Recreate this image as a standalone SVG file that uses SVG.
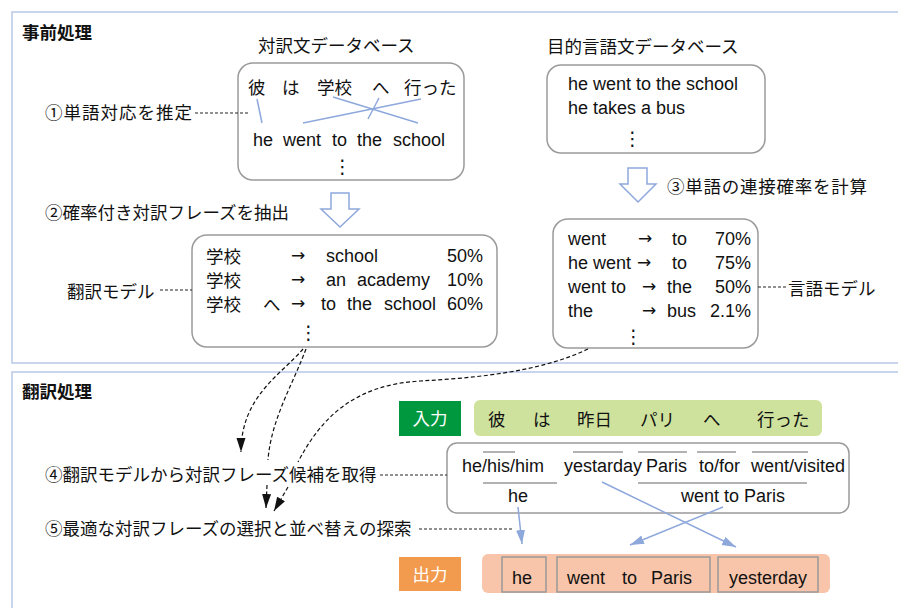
<svg xmlns="http://www.w3.org/2000/svg" width="898" height="608" viewBox="0 0 898 608">
<defs>
<style>
.panel{fill:none;stroke:#b8c6e8;stroke-width:1.5}
.box{fill:#fff;stroke:#9a9a9a;stroke-width:1.5}
.jp{font-family:"Noto Sans CJK JP","Liberation Sans",sans-serif;font-size:17.5px;fill:#111}
.ttl{font-family:"Noto Sans CJK JP","Liberation Sans",sans-serif;font-size:17.5px;font-weight:bold;fill:#111}
.en{font-family:"Liberation Sans","Noto Sans CJK JP",sans-serif;font-size:18px;fill:#111}
.ar{font-family:"DejaVu Sans",sans-serif;font-size:17px;fill:#111}
.dots{font-family:"DejaVu Sans",sans-serif;font-size:19px;fill:#111}
.wh{font-family:"Noto Sans CJK JP",sans-serif;font-size:17.5px;fill:#fff}
.hollow{fill:#fff;stroke:#8ea8dc;stroke-width:1.5;stroke-linejoin:miter}
.align{stroke:#8ea8dc;stroke-width:1.5;fill:none}
.lead{stroke:#222;stroke-width:1;stroke-dasharray:3 2;fill:none}
.curve{stroke:#111;stroke-width:1.2;stroke-dasharray:4 2.5;fill:none}
.bar{stroke:#999;stroke-width:1.5}
.blue{stroke:#8ea8dc;stroke-width:1.5;fill:none}
</style>
<marker id="ah" markerUnits="userSpaceOnUse" markerWidth="16" markerHeight="10" refX="14" refY="4.5" orient="auto">
<path d="M0,0 L14,4.5 L0,9 Z" fill="#111"/>
</marker>
<marker id="bh" markerUnits="userSpaceOnUse" markerWidth="16" markerHeight="10" refX="14" refY="4.5" orient="auto">
<path d="M0,0 L14,4.5 L0,9 Z" fill="#8ea8dc"/>
</marker>
</defs>

<rect width="898" height="608" fill="#fff"/>

<!-- panels -->
<g id="panel-pre">
<rect class="panel" x="12" y="12" width="900" height="351"/>
<text class="ttl" x="22" y="39">事前処理</text>
</g>
<g id="panel-trans">
<rect class="panel" x="12" y="372" width="900" height="260"/>
<text class="ttl" x="22" y="398">翻訳処理</text>
</g>

<!-- parallel corpus -->
<g id="parallel-db">
<text class="jp" x="258" y="52">対訳文データベース</text>
<rect class="box" x="238" y="63" width="226" height="117" rx="15"/>
<text class="jp" x="248" y="94">彼</text>
<text class="jp" x="282" y="94">は</text>
<text class="jp" x="317" y="94">学校</text>
<text class="jp" x="372" y="94">へ</text>
<text class="jp" x="404" y="94">行った</text>
<text class="en" x="253" y="146">he</text>
<text class="en" x="283" y="146">went</text>
<text class="en" x="332" y="146">to</text>
<text class="en" x="357" y="146">the</text>
<text class="en" x="393" y="146">school</text>
<text class="dots" x="333" y="173">⋮</text>
<line class="align" x1="257" y1="99" x2="262" y2="123"/>
<line class="align" x1="333" y1="97" x2="418" y2="123"/>
<line class="align" x1="379" y1="98" x2="368" y2="119"/>
<line class="align" x1="421" y1="99" x2="303" y2="123"/>
</g>

<g id="step1">
<text class="jp" x="45" y="119" textLength="147">①単語対応を推定</text>
</g>

<g id="arrow-down-1">
<path class="hollow" d="M331,193 H349 V209 H359 L340,227 L321,209 H331 Z"/>
</g>

<g id="step2">
<text class="jp" x="45" y="219">②確率付き対訳フレーズを抽出</text>
</g>

<!-- translation model -->
<g id="translation-model">
<rect class="box" x="192" y="235" width="305" height="112" rx="15"/>
<text class="jp" x="206" y="263">学校</text>
<text class="ar" x="291" y="261">→</text>
<text class="en" x="326" y="262">school</text>
<text class="en" x="483" y="262" text-anchor="end">50%</text>
<text class="jp" x="206" y="287">学校</text>
<text class="ar" x="291" y="285">→</text>
<text class="en" x="326" y="286">an</text>
<text class="en" x="357" y="286">academy</text>
<text class="en" x="483" y="286" text-anchor="end">10%</text>
<text class="jp" x="206" y="311">学校</text>
<text class="jp" x="263" y="311">へ</text>
<text class="ar" x="291" y="309">→</text>
<text class="en" x="321" y="310">to</text>
<text class="en" x="347" y="310">the</text>
<text class="en" x="384" y="310">school</text>
<text class="en" x="483" y="310" text-anchor="end">60%</text>
<text class="dots" x="299" y="339">⋮</text>
</g>
<g id="label-tm">
<text class="jp" x="67" y="298">翻訳モデル</text>
</g>

<!-- target corpus -->
<g id="target-db">
<text class="jp" x="547" y="53">目的言語文データベース</text>
<rect class="box" x="547" y="65" width="218" height="88" rx="14"/>
<text class="en" x="568" y="90">he went to the school</text>
<text class="en" x="568" y="114">he takes a bus</text>
<text class="dots" x="623" y="145">⋮</text>
</g>

<g id="arrow-down-2">
<path class="hollow" d="M628,168 H647 V184 H656 L638,202 L620,184 H628 Z"/>
</g>
<g id="step3">
<text class="jp" x="667" y="193" textLength="200">③単語の連接確率を計算</text>
</g>

<!-- language model -->
<g id="language-model">
<rect class="box" x="553" y="219" width="205" height="129" rx="15"/>
<text class="en" x="568" y="245">went</text>
<text class="ar" x="638" y="244">→</text>
<text class="en" x="672" y="245">to</text>
<text class="en" x="751" y="245" text-anchor="end">70%</text>
<text class="en" x="568" y="269">he went</text>
<text class="ar" x="637" y="268">→</text>
<text class="en" x="672" y="269">to</text>
<text class="en" x="751" y="269" text-anchor="end">75%</text>
<text class="en" x="568" y="293">went to</text>
<text class="ar" x="642" y="292">→</text>
<text class="en" x="667" y="293">the</text>
<text class="en" x="751" y="293" text-anchor="end">50%</text>
<text class="en" x="568" y="317">the</text>
<text class="ar" x="642" y="316">→</text>
<text class="en" x="667" y="317">bus</text>
<text class="en" x="751" y="317" text-anchor="end">2.1%</text>
<text class="dots" x="624" y="343">⋮</text>
</g>
<g id="label-lm">
<text class="jp" x="788" y="295">言語モデル</text>
</g>

<!-- translation process -->
<g id="input-label">
<rect x="399" y="401" width="62" height="35" fill="#00983f"/>
<text class="wh" x="430" y="425" text-anchor="middle">入力</text>
</g>
<g id="input-sentence">
<rect x="474" y="400" width="348" height="36" rx="6" fill="#cfe29d"/>
<text class="jp" x="488" y="426">彼</text>
<text class="jp" x="533" y="426">は</text>
<text class="jp" x="577" y="426">昨日</text>
<text class="jp" x="640" y="426">パリ</text>
<text class="jp" x="703" y="426">へ</text>
<text class="jp" x="757" y="426">行った</text>
</g>

<g id="candidates">
<rect class="box" x="447" y="443" width="402" height="70" rx="10"/>
<line class="bar" x1="483" y1="452" x2="515" y2="452"/>
<line class="bar" x1="573" y1="452" x2="623" y2="452"/>
<line class="bar" x1="638" y1="452" x2="687" y2="452"/>
<line class="bar" x1="697" y1="452" x2="736" y2="452"/>
<line class="bar" x1="752" y1="452" x2="808" y2="452"/>
<text class="en" x="462" y="472">he/his/him</text>
<text class="en" x="564" y="472">yestarday</text>
<text class="en" x="646" y="472">Paris</text>
<text class="en" x="699" y="472">to/for</text>
<text class="en" x="751" y="472">went/visited</text>
<line class="bar" x1="483" y1="483" x2="557" y2="483"/>
<line class="bar" x1="638" y1="483" x2="807" y2="483"/>
<text class="en" x="508" y="502">he</text>
<text class="en" x="681" y="502">went to Paris</text>
</g>

<g id="step4">
<text class="jp" x="45" y="481">④翻訳モデルから対訳フレーズ候補を取得</text>
</g>
<g id="step5">
<text class="jp" x="45" y="535">⑤最適な対訳フレーズの選択と並べ替えの探索</text>
</g>

<g id="output-label">
<rect x="399" y="557" width="62" height="34" fill="#f29a4e"/>
<text class="wh" x="430" y="581" text-anchor="middle">出力</text>
</g>
<g id="output-sentence">
<rect x="482" y="554" width="348" height="39" rx="6" fill="#f8c5aa"/>
<rect x="502" y="557" width="44" height="35" fill="none" stroke="#999" stroke-width="1.5"/>
<rect x="557" y="557" width="153" height="35" fill="none" stroke="#999" stroke-width="1.5"/>
<rect x="718" y="557" width="100" height="35" fill="none" stroke="#999" stroke-width="1.5"/>
<text class="en" x="512" y="584">he</text>
<text class="en" x="567" y="584">went</text>
<text class="en" x="622" y="584">to</text>
<text class="en" x="651" y="584">Paris</text>
<text class="en" x="729" y="584">yesterday</text>
</g>

<!-- connectors -->
<g id="connectors">
<line class="lead" x1="195" y1="113" x2="248" y2="113"/>
<line class="lead" x1="160" y1="290" x2="192" y2="290"/>
<line class="lead" x1="758" y1="287" x2="786" y2="287"/>
<line class="lead" x1="380" y1="475" x2="447" y2="475"/>
<line class="lead" x1="419" y1="529" x2="512" y2="529"/>
<path class="curve" d="M303,349 C282,374 241,396 241,452" marker-end="url(#ah)"/>
<path class="curve" d="M306,349 C292,386 271,420 268,460"/>
<path class="curve" d="M267,485 L266,508" marker-end="url(#ah)"/>
<path class="curve" d="M588,349 C540,372 475,378 420,381 C352,385 320,420 298,462"/>
<path class="curve" d="M288,487 L274,511" marker-end="url(#ah)"/>
<path class="blue" d="M518,507 L522,544" marker-end="url(#bh)"/>
<path class="blue" d="M602,482 L736,547" marker-end="url(#bh)"/>
<path class="blue" d="M723,507 L630,545" marker-end="url(#bh)"/>
</g>
</svg>
